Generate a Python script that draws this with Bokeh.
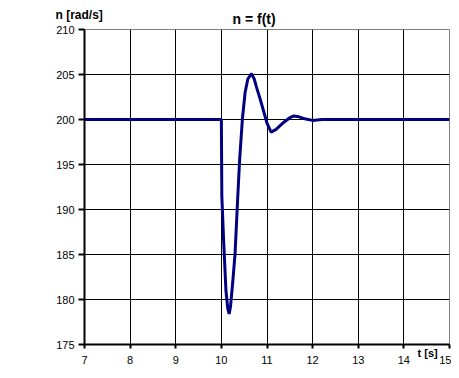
from bokeh.plotting import figure
from bokeh.models import Title, Range1d, FixedTicker, LinearAxis
from bokeh.embed import file_html
from bokeh.resources import INLINE

t = [7.0, 10.0, 10.01, 10.05, 10.1, 10.14, 10.17, 10.2, 10.25, 10.3, 10.36, 10.4,
     10.46, 10.52, 10.58, 10.66, 10.72, 10.77, 10.86, 10.95, 11.0, 11.09, 11.2,
     11.37, 11.5, 11.59, 11.7, 11.85, 12.0, 12.2, 15.0]
n = [200.0, 200.0, 191.5, 186.5, 181.0, 179.0, 178.4, 179.2, 182.0, 185.1, 191.5, 195.5,
     200.0, 203.0, 204.5, 205.1, 204.5, 203.6, 202.1, 200.5, 199.6, 198.6, 198.9,
     199.7, 200.2, 200.4, 200.3, 200.05, 199.9, 200.0, 200.0]

x_ticks = [7, 8, 9, 10, 11, 12, 13, 14, 15]
y_ticks = [175, 180, 185, 190, 195, 200, 205, 210]
x_unit_pos = 14.52

FONT = "Liberation Sans"

p = figure(width=451, height=370, output_backend="svg", toolbar_location=None,
           x_range=Range1d(7, 15), y_range=Range1d(175, 210),
           min_border_left=84, min_border_right=2, min_border_top=29, min_border_bottom=26)
p.frame_width = 365
p.frame_height = 315

# titles in the top panel: inner (main title) and outer (y unit)
t_main = Title(text="n = f(t)", align="left", offset=148, text_font=FONT,
               text_font_size="14px", text_font_style="bold", text_color="black",
               standoff=5, vertical_align="bottom")
t_unit = Title(text="n [rad/s]", align="left", offset=-29, text_font=FONT,
               text_font_size="12px", text_font_style="bold", text_color="black",
               standoff=-30, vertical_align="bottom")
p.add_layout(t_main, "above")
p.add_layout(t_unit, "above")

p.background_fill_color = "white"
p.border_fill_color = "white"
p.outline_line_color = "#808080"
p.outline_line_width = 1

for ax, ticks in ((p.xaxis[0], x_ticks), (p.yaxis[0], y_ticks)):
    ax.ticker = FixedTicker(ticks=ticks)
    ax.axis_line_color = "black"
    ax.axis_line_width = 2
    ax.major_tick_line_color = "black"
    ax.major_tick_line_width = 2
    ax.major_tick_in = 0
    ax.minor_tick_line_color = None
    ax.major_label_text_font = FONT
    ax.major_label_text_font_size = "11px"
    ax.major_label_text_color = "black"

p.xaxis.major_tick_out = 4
p.xaxis.major_label_standoff = 7
p.yaxis.major_tick_out = 6
p.yaxis.major_label_standoff = 4

# x unit label "t [s]" placed just under the axis line, near its right end
unit_axis = LinearAxis(ticker=FixedTicker(ticks=[x_unit_pos]),
                       major_label_overrides={x_unit_pos: "t [s]"},
                       axis_line_color=None, major_tick_line_color=None,
                       minor_tick_line_color=None, major_tick_out=0, major_tick_in=0,
                       major_label_standoff=-20, major_label_text_font=FONT,
                       major_label_text_font_size="11px",
                       major_label_text_font_style="bold",
                       major_label_text_color="black")
p.add_layout(unit_axis, "below")

p.xgrid.ticker = FixedTicker(ticks=x_ticks)
p.ygrid.ticker = FixedTicker(ticks=y_ticks)
p.grid.grid_line_color = "black"
p.grid.grid_line_width = 1
p.grid.grid_line_alpha = 1.0

p.line(t, n, line_color="#000080", line_width=3)

open("out.html", "w").write(file_html(p, INLINE))
